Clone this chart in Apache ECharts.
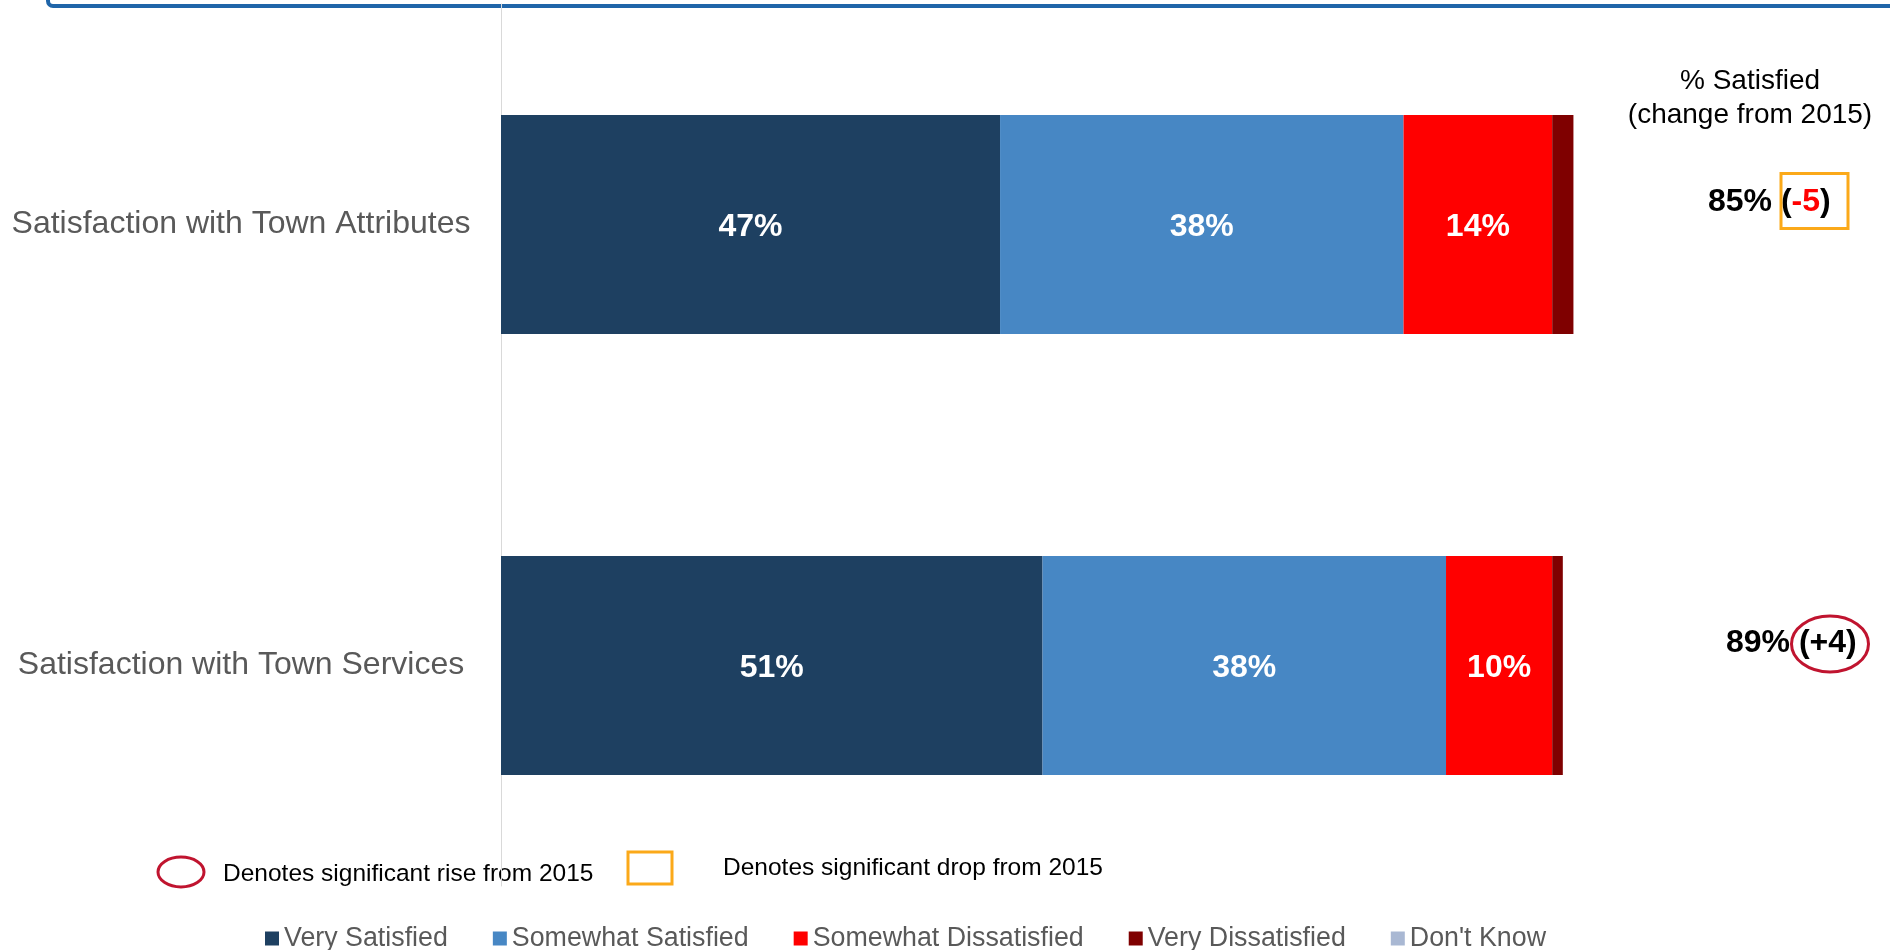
<!DOCTYPE html>
<html>
<head>
<meta charset="utf-8">
<title>Satisfaction with Town</title>
<script src="https://cdn.jsdelivr.net/npm/echarts@6/dist/echarts.min.js"></script>
<style>
  html, body { margin: 0; padding: 0; background: #ffffff; }
  #chart { width: 1890px; height: 950px; }
</style>
</head>
<body>
<div id="chart"></div>
<script>
// Survey categories (top to bottom)
const categories = ['Satisfaction with Town Attributes', 'Satisfaction with Town Services'];

// Response shares, in percent
const seriesNames = ['Very Satisfied', 'Somewhat Satisfied', 'Somewhat Dissatisfied', 'Very Dissatisfied', "Don't Know"];
const verySatisfied = [47, 51];
const somewhatSatisfied = [38, 38];
const somewhatDissatisfied = [14, 10];
const veryDissatisfied = [2, 1];
const dontKnow = [0, 0];

// Right-hand summary: % satisfied and change from 2015
const pctSatisfied = [85, 89];
const changeFrom2015 = ['-5', '+4'];
const changeSignificance = ['drop', 'rise'];

const colors = ['#1E4061', '#4787C4', '#FF0000', '#7F0000', '#A9B8D3'];
const seriesData = [verySatisfied, somewhatSatisfied, somewhatDissatisfied, veryDissatisfied, dontKnow];
const labelled = [true, true, true, false, false];

const FONT = "'Liberation Sans', Arial, sans-serif";
const RISE_COLOR = '#C0142F';
const DROP_COLOR = '#FBA919';

const chart = echarts.init(document.getElementById('chart'), null, { renderer: 'canvas' });

const series = seriesNames.map((name, i) => ({
  name: name,
  type: 'bar',
  stack: 'total',
  barWidth: '49.7%',
  data: seriesData[i],
  itemStyle: { color: colors[i] },
  emphasis: { disabled: true },
  label: {
    show: labelled[i],
    position: 'inside',
    offset: [0, 3],
    formatter: '{c}%',
    color: '#ffffff',
    fontFamily: FONT,
    fontWeight: 'bold',
    fontSize: 32
  }
}));

chart.setOption({
  animation: false,
  backgroundColor: '#ffffff',
  grid: { left: 501, right: 221, top: 4, bottom: 64, containLabel: false },
  xAxis: { type: 'value', min: 0, max: 110, show: false },
  yAxis: {
    type: 'category',
    data: categories,
    inverse: true,
    axisTick: { show: false },
    axisLine: { show: true, lineStyle: { color: '#D9D9D9', width: 1 } },
    axisLabel: {
      align: 'center',
      margin: 260,
      padding: [6, 0, 0, 0],
      color: '#595959',
      fontFamily: FONT,
      fontSize: 32
    }
  },
  legend: {
    data: seriesNames,
    left: 265,
    top: 925,
    padding: 0,
    icon: 'rect',
    itemWidth: 14,
    itemHeight: 14,
    itemGap: 45,
    selectedMode: false,
    textStyle: { color: '#595959', fontFamily: FONT, fontSize: 26.8 }
  },
  series: series
});

// Overlay: frame edge, summary column and significance key
function buildOverlay() {
  const g = [];

  // Slide frame edge along the top
  g.push({
    type: 'rect',
    shape: { x: 48, y: -40, width: 1900, height: 46, r: 5 },
    style: { fill: 'none', stroke: '#1F65A9', lineWidth: 4 },
    silent: true
  });

  // Column heading
  g.push({
    type: 'text',
    style: {
      x: 1750, y: 98,
      text: '% Satisfied\n(change from 2015)',
      align: 'center', verticalAlign: 'middle',
      fill: '#000000', font: '28px ' + FONT, lineHeight: 34
    },
    silent: true
  });

  const rowLeft = [1708, 1726];
  categories.forEach((cat, i) => {
    const cy = chart.convertToPixel({ yAxisIndex: 0 }, cat) - 22;
    const neg = changeFrom2015[i].charAt(0) === '-';
    g.push({
      type: 'text',
      style: {
        x: rowLeft[i], y: cy,
        text: '{b|' + pctSatisfied[i] + '% (}{c|' + changeFrom2015[i] + '}{b|)}',
        align: 'left', verticalAlign: 'middle',
        rich: {
          b: { fontFamily: FONT, fontWeight: 'bold', fontSize: 32, fill: '#000000' },
          c: { fontFamily: FONT, fontWeight: 'bold', fontSize: 32, fill: neg ? '#FF0000' : '#000000' }
        }
      },
      silent: true
    });
    if (changeSignificance[i] === 'drop') {
      g.push({
        type: 'rect',
        shape: { x: 1781, y: cy - 29, width: 67, height: 55 },
        style: { fill: 'none', stroke: DROP_COLOR, lineWidth: 3 },
        silent: true
      });
    } else if (changeSignificance[i] === 'rise') {
      g.push({
        type: 'ellipse',
        shape: { cx: 1830, cy: cy + 0.5, rx: 38.5, ry: 28 },
        style: { fill: 'none', stroke: RISE_COLOR, lineWidth: 3 },
        silent: true
      });
    }
  });

  // Significance key
  g.push({
    type: 'ellipse',
    shape: { cx: 181, cy: 872, rx: 23, ry: 15 },
    style: { fill: 'none', stroke: RISE_COLOR, lineWidth: 3 },
    silent: true
  });
  g.push({
    type: 'text',
    style: {
      x: 223, y: 874, text: 'Denotes significant rise from 2015',
      align: 'left', verticalAlign: 'middle',
      fill: '#000000', font: '24.5px ' + FONT
    },
    silent: true
  });
  g.push({
    type: 'rect',
    shape: { x: 628, y: 852, width: 44, height: 32 },
    style: { fill: 'none', stroke: DROP_COLOR, lineWidth: 3 },
    silent: true
  });
  g.push({
    type: 'text',
    style: {
      x: 723, y: 868, text: 'Denotes significant drop from 2015',
      align: 'left', verticalAlign: 'middle',
      fill: '#000000', font: '24.5px ' + FONT
    },
    silent: true
  });

  chart.setOption({ graphic: { elements: g } });
}

buildOverlay();
</script>
</body>
</html>
